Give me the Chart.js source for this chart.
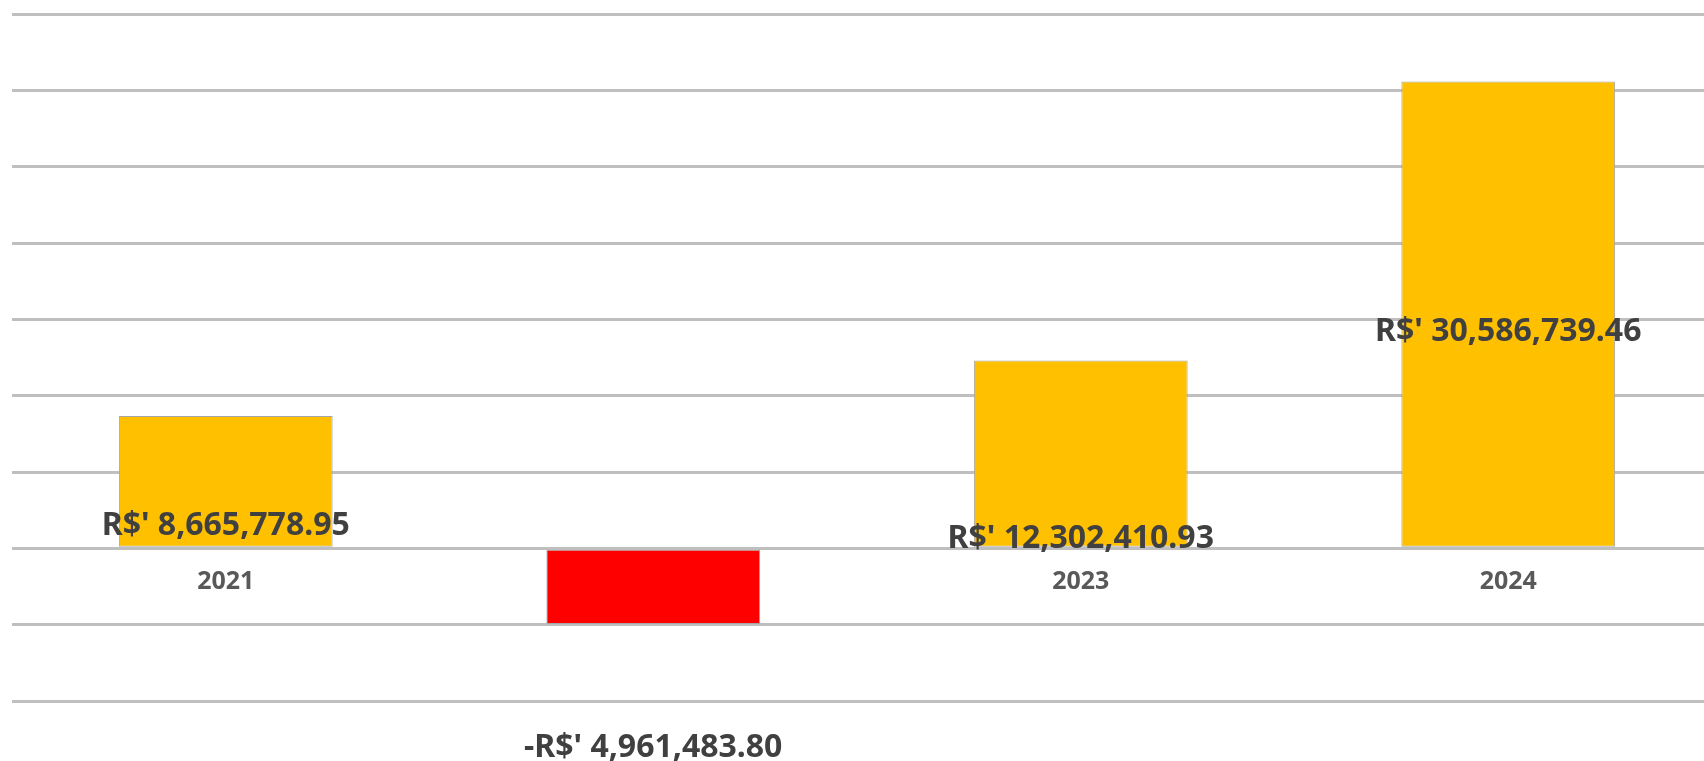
<!DOCTYPE html>
<html>
<head>
<meta charset="utf-8">
<script src="https://cdn.jsdelivr.net/npm/chart.js@4/dist/chart.umd.min.js"></script>
<style>
  html, body { margin: 0; padding: 0; background: #fff; overflow: hidden; }
  #wrap { width: 1730px; height: 761px; position: relative; }
</style>
</head>
<body>
<div id="wrap"><canvas id="myChart"></canvas></div>
<script>
const years = ["2021", "2022", "2023", "2024"];
const results = [8665778.95, -4961483.80, 12302410.93, 30586739.46];
const barColors = ["#FFC000", "#FF0000", "#FFC000", "#FFC000"];
// where each value label sits, in axis units (Excel labels were moved by hand)
const labelAnchors = [1500000, -13050000, 600000, 14150000];

function money(v) {
  const s = Math.abs(v).toLocaleString("en-US", { minimumFractionDigits: 2, maximumFractionDigits: 2 });
  return (v < 0 ? "-" : "") + "R$' " + s;
}

const labelsPlugin = {
  id: "excelLabels",
  beforeDatasetsDraw(chart) {
    // category labels sit next to the zero line, the red bar covers 2022
    const ctx = chart.ctx;
    const x = chart.scales.x, y = chart.scales.y;
    const zero = y.getPixelForValue(0);
    ctx.save();
    ctx.font = "bold 25px 'Noto Sans'";
    ctx.fillStyle = "#595959";
    ctx.textAlign = "center";
    ctx.textBaseline = "middle";
    years.forEach(function (yr, i) {
      ctx.fillText(yr, x.getPixelForValue(i), zero + 34);
    });
    ctx.restore();
  },
  afterDatasetsDraw(chart) {
    const ctx = chart.ctx;
    const x = chart.scales.x, y = chart.scales.y;
    ctx.save();
    ctx.font = "bold 32px 'Noto Sans'";
    ctx.fillStyle = "#404040";
    ctx.textAlign = "center";
    ctx.textBaseline = "middle";
    results.forEach(function (v, i) {
      ctx.fillText(money(v), x.getPixelForValue(i), y.getPixelForValue(labelAnchors[i]));
    });
    ctx.restore();
  }
};

const ctx = document.getElementById("myChart").getContext("2d");
new Chart(ctx, {
  type: "bar",
  data: {
    labels: years,
    datasets: [
      {
        data: results,
        backgroundColor: barColors,
        borderColor: "#A6A6A6",
        borderWidth: 1,
        borderSkipped: false,
        categoryPercentage: 1,
        barPercentage: 0.5
      }
    ]
  },
  options: {
    responsive: true,
    maintainAspectRatio: false,
    animation: false,
    layout: {
      padding: { top: 14, bottom: 60, left: 12, right: 8 }
    },
    scales: {
      x: {
        grid: { display: false, drawTicks: false },
        border: { display: false },
        ticks: { display: false }
      },
      y: {
        min: -10000000,
        max: 35000000,
        ticks: { display: false, stepSize: 5000000 },
        grid: { color: "#BFBFBF", lineWidth: 3, drawTicks: false },
        border: { display: false }
      }
    },
    plugins: {
      legend: { display: false },
      tooltip: { enabled: false }
    }
  },
  plugins: [labelsPlugin]
});
</script>
</body>
</html>
